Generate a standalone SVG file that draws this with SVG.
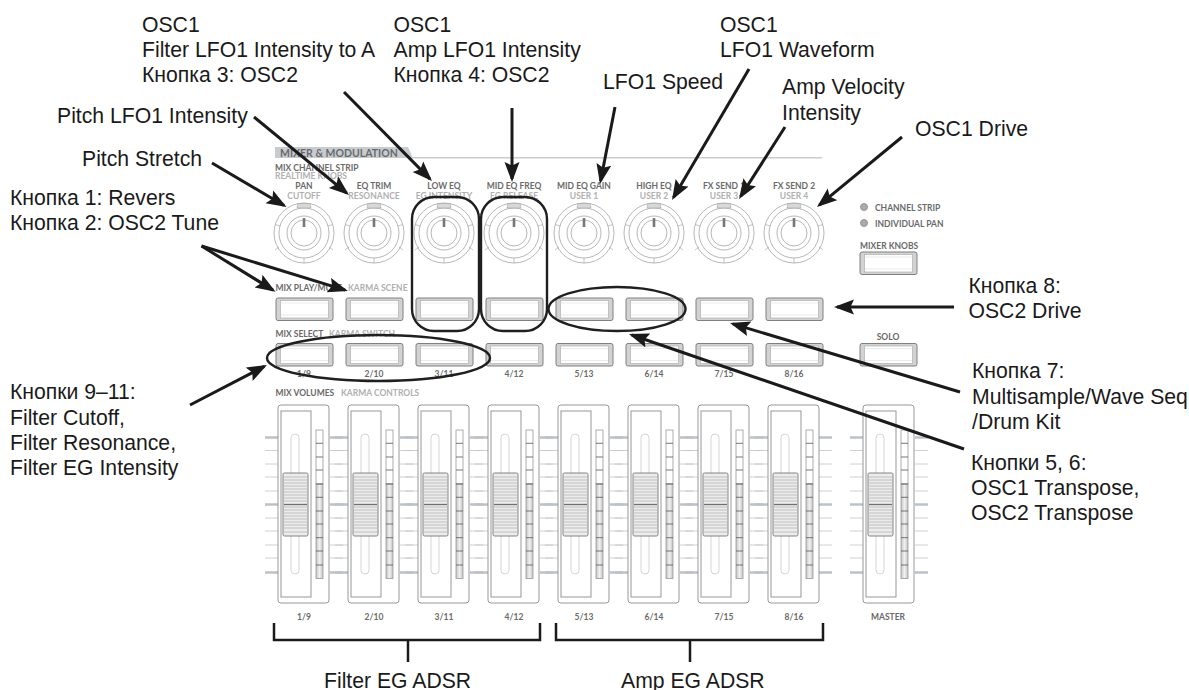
<svg xmlns="http://www.w3.org/2000/svg" width="1189" height="690" viewBox="0 0 1189 690">
<style>
.t{font-family:"Liberation Sans",Arial,sans-serif;font-size:21.2px;fill:#1a1a1a}
.p{font-family:"Lato","Open Sans",sans-serif;font-weight:700;font-size:8.5px;fill:#6a6a6a}
.l{fill:#b0b0b0}
.m{text-anchor:middle}
.arrow{fill:none;stroke:#1a1a1a;stroke-width:3;marker-end:url(#ah)}
.ring{fill:none;stroke:#1f1f1f;stroke-width:2.4}
.k{fill:#fff;stroke:#a5a5a5;stroke-width:.8}
</style>
<defs>
<linearGradient id="seg" x1="0" x2="1" y1="0" y2="0"><stop offset="0" stop-color="#c4c4c4"/><stop offset=".5" stop-color="#f0f0f0"/><stop offset="1" stop-color="#c4c4c4"/></linearGradient>
<marker id="ah" markerUnits="userSpaceOnUse" markerWidth="22" markerHeight="18" refX="17" refY="8" orient="auto"><path d="M0 0.500L20 8L0 15.500L3.500 8Z" fill="#1a1a1a"/></marker>
<g id="knob">
<circle class="k" r="30"/><circle class="k" r="25"/>
<path d="M-6-29.500h12l1 4.500h-14z" fill="#d8d8d8" stroke="#aaa" stroke-width=".7"/>
<path d="M-25 14l-4 3M25 14l4 3M-24-7l-4.800-1.500M24-7l4.800-1.500M0 25v5" fill="none" stroke="#aaa" stroke-width=".7"/>
<circle class="k" r="17"/><circle class="k" r="13"/>
<rect x="-1.300" y="-15" width="2.600" height="9" fill="#777"/>
</g>
<g id="btn">
<rect x="0" y="0" width="57" height="22.500" rx="2" fill="#d2d2d2" stroke="#808080" stroke-width="1"/>
<rect x="4.500" y="2.500" width="48" height="17.500" fill="#fff" stroke="#b0b0b0" stroke-width=".7"/>
<path d="M5 5H52M5 17H52" stroke="#e2e2e2" stroke-width=".7"/>
</g>
<g id="ticks">
<path d="M0 437.500h13M0 504.500h13M0 572.500h13" stroke="#bcc2c8" stroke-width="2.500"/>
<path d="M0 450.500h13M0 464h13M0 477h13M0 491h13M0 518h13M0 531h13M0 545h13M0 558h13" stroke="#c4c4c4" stroke-width=".8"/>
</g>
<g id="fader">
<rect x="0" y="405" width="51" height="198" rx="3" fill="#fff" stroke="#8c8c8c" stroke-width=".9"/>
<rect x="3" y="411" width="30" height="186" fill="#fff" stroke="#8c8c8c" stroke-width=".9"/>
<rect x="13" y="434" width="8" height="140" rx="4" fill="#fff" stroke="#d0d0d0" stroke-width=".9"/>
<rect x="5" y="473" width="25" height="63" rx="1.500" fill="#ececec" stroke="#777" stroke-width=".9"/>
<path d="M6 477h23M6 480h23M6 483h23M6 486h23M6 489h23M6 492h23M6 495h23M6 498h23M6 501h23M6 507h23M6 510h23M6 513h23M6 516h23M6 519h23M6 522h23M6 525h23M6 528h23M6 532h23" stroke="#b5b5b5" stroke-width=".8"/>
<path d="M6 504.500h23" stroke="#707070" stroke-width="1.300"/>
<rect x="38" y="430" width="7" height="54" fill="#fff" stroke="#999" stroke-width=".8"/>
<rect x="38" y="484" width="7" height="94.500" fill="url(#seg)" stroke="#999" stroke-width=".8"/>
<path d="M38 443.300h7M38 457h7M38 470h7M38 484h7M38 497.300h7M38 511h7M38 524h7M38 537.700h7M38 551h7M38 565h7" stroke="#555" stroke-width=".8"/>
</g>
</defs>
<rect width="1189" height="690" fill="#fff"/>
<g id="panel">
<path d="M275 147H408L413 158H275Z" fill="#c8ccd1"/>
<path d="M411 157.700H822" stroke="#c8ccd1" stroke-width="1.500"/>
<text class="p" x="280" y="157" style="font-size:10.500px">MIXER &amp; MODULATION</text>
<text class="p" x="275" y="170.500">MIX CHANNEL STRIP</text>
<text class="p l" x="275" y="179">REALTIME KNOBS</text>
<text class="p" x="275.500" y="290.500">MIX PLAY/MUTE</text>
<text class="p l" x="348" y="290.500">KARMA SCENE</text>
<text class="p" x="275.500" y="336.500">MIX SELECT</text>
<text class="p l" x="329" y="336.500">KARMA SWITCH</text>
<text class="p" x="275.500" y="395.500">MIX VOLUMES</text>
<text class="p l" x="341" y="395.500">KARMA CONTROLS</text>
</g>
<g id="fader-ticks">
<use href="#ticks" x="265"/>
<use href="#ticks" x="330"/><use href="#ticks" x="335"/>
<use href="#ticks" x="400"/><use href="#ticks" x="405"/>
<use href="#ticks" x="470"/><use href="#ticks" x="475"/>
<use href="#ticks" x="540"/><use href="#ticks" x="545"/>
<use href="#ticks" x="610"/><use href="#ticks" x="615"/>
<use href="#ticks" x="680"/><use href="#ticks" x="685"/>
<use href="#ticks" x="750"/><use href="#ticks" x="755"/>
<use href="#ticks" x="819"/><use href="#ticks" x="850"/><use href="#ticks" x="915"/>
</g>
<g id="knob1"><use href="#knob" x="304" y="233"/><text class="p m" x="304" y="189">PAN</text><text class="p l m" x="304" y="199">CUTOFF</text></g>
<g id="knob2"><use href="#knob" x="374" y="233"/><text class="p m" x="374" y="189">EQ TRIM</text><text class="p l m" x="374" y="199">RESONANCE</text></g>
<g id="knob3"><use href="#knob" x="444" y="233"/><text class="p m" x="444" y="189">LOW EQ</text><text class="p l m" x="444" y="199">EG INTENSITY</text></g>
<g id="knob4"><use href="#knob" x="514" y="233"/><text class="p m" x="514" y="189">MID EQ FREQ</text><text class="p l m" x="514" y="199">EG RELEASE</text></g>
<g id="knob5"><use href="#knob" x="584" y="233"/><text class="p m" x="584" y="189">MID EQ GAIN</text><text class="p l m" x="584" y="199">USER 1</text></g>
<g id="knob6"><use href="#knob" x="654" y="233"/><text class="p m" x="654" y="189">HIGH EQ</text><text class="p l m" x="654" y="199">USER 2</text></g>
<g id="knob7"><use href="#knob" x="724" y="233"/><text class="p m" x="724" y="189">FX SEND 1</text><text class="p l m" x="724" y="199">USER 3</text></g>
<g id="knob8"><use href="#knob" x="794" y="233"/><text class="p m" x="794" y="189">FX SEND 2</text><text class="p l m" x="794" y="199">USER 4</text></g>
<g id="leds">
<circle cx="864" cy="207" r="3.500" fill="#aaa" stroke="#999"/><circle cx="864" cy="223" r="3.500" fill="#aaa" stroke="#999"/>
<text class="p" x="875" y="211">CHANNEL STRIP</text><text class="p" x="875" y="227">INDIVIDUAL PAN</text>
</g>
<g id="mixer-knobs"><text class="p" x="860" y="249">MIXER KNOBS</text><use href="#btn" x="860" y="252"/></g>
<g id="solo"><text class="p m" x="888" y="340">SOLO</text><use href="#btn" x="860" y="343.500"/></g>
<g id="row1">
<use href="#btn" x="276" y="298"/><use href="#btn" x="346" y="298"/><use href="#btn" x="416" y="298"/><use href="#btn" x="486" y="298"/>
<use href="#btn" x="556" y="298"/><use href="#btn" x="626" y="298"/><use href="#btn" x="696" y="298"/><use href="#btn" x="766" y="298"/>
</g>
<g id="row2">
<use href="#btn" x="276" y="343.500"/><use href="#btn" x="346" y="343.500"/><use href="#btn" x="416" y="343.500"/><use href="#btn" x="486" y="343.500"/>
<use href="#btn" x="556" y="343.500"/><use href="#btn" x="626" y="343.500"/><use href="#btn" x="696" y="343.500"/><use href="#btn" x="766" y="343.500"/>
<text class="p m" x="304" y="377">1/9</text><text class="p m" x="374" y="377">2/10</text><text class="p m" x="444" y="377">3/11</text><text class="p m" x="514" y="377">4/12</text>
<text class="p m" x="584" y="377">5/13</text><text class="p m" x="654" y="377">6/14</text><text class="p m" x="724" y="377">7/15</text><text class="p m" x="794" y="377">8/16</text>
</g>
<g id="fader1"><use href="#fader" x="278"/><text class="p m" x="304" y="620">1/9</text></g>
<g id="fader2"><use href="#fader" x="348"/><text class="p m" x="374" y="620">2/10</text></g>
<g id="fader3"><use href="#fader" x="418"/><text class="p m" x="444" y="620">3/11</text></g>
<g id="fader4"><use href="#fader" x="488"/><text class="p m" x="514" y="620">4/12</text></g>
<g id="fader5"><use href="#fader" x="558"/><text class="p m" x="584" y="620">5/13</text></g>
<g id="fader6"><use href="#fader" x="628"/><text class="p m" x="654" y="620">6/14</text></g>
<g id="fader7"><use href="#fader" x="698"/><text class="p m" x="724" y="620">7/15</text></g>
<g id="fader8"><use href="#fader" x="768"/><text class="p m" x="794" y="620">8/16</text></g>
<g id="master"><use href="#fader" x="863"/><text class="p m" x="888" y="620">MASTER</text></g>
<g id="highlights">
<rect class="ring" x="412" y="197" width="67" height="134" rx="22"/>
<rect class="ring" x="481" y="197" width="66" height="134" rx="22"/>
<ellipse class="ring" cx="617" cy="309" rx="68.500" ry="22"/>
<ellipse class="ring" cx="378.500" cy="358" rx="111.500" ry="23"/>
</g>
<g id="connectors">
<path class="arrow" d="M212 163L284 205.500"/>
<path class="arrow" d="M254 117L346.700 193.100"/>
<path class="arrow" d="M344 92L429.900 178.900"/>
<path class="arrow" d="M512 108V179"/>
<path class="arrow" d="M615 107L600.600 181"/>
<path class="arrow" d="M749 69L673.500 197.400"/>
<path class="arrow" d="M785 127L740.600 196.500"/>
<path class="arrow" d="M902 137L819.300 205.100"/>
<path class="arrow" d="M201.500 246L273 290.100"/>
<path class="arrow" d="M201.500 246L345.100 290.100"/>
<path class="arrow" d="M954 307H837"/>
<path class="arrow" d="M960 392L732.900 323.900"/>
<path class="arrow" d="M964 449L631.800 335"/>
<path class="arrow" d="M190 405L264.300 366.400"/>
<path d="M274 623V640H540V623M408 640V662M556 623V640H823V623M690 640V662" fill="none" stroke="#1a1a1a" stroke-width="2.500"/>
</g>
<g id="labels">
<text class="t" x="142" y="32">OSC1</text><text class="t" x="142" y="57">Filter LFO1 Intensity to A</text><text class="t" x="142" y="82">Кнопка 3: OSC2</text>
<text class="t" x="393.500" y="32">OSC1</text><text class="t" x="393.500" y="57">Amp LFO1 Intensity</text><text class="t" x="393.500" y="82">Кнопка 4: OSC2</text>
<text class="t" x="720" y="32">OSC1</text><text class="t" x="720" y="57">LFO1 Waveform</text>
<text class="t" x="603" y="89">LFO1 Speed</text>
<text class="t" x="782" y="94">Amp Velocity</text><text class="t" x="782" y="120">Intensity</text>
<text class="t" x="915" y="136">OSC1 Drive</text>
<text class="t" x="57" y="122.500">Pitch LFO1 Intensity</text>
<text class="t" x="82" y="166">Pitch Stretch</text>
<text class="t" x="10" y="205">Кнопка 1: Revers</text><text class="t" x="10" y="230">Кнопка 2: OSC2 Tune</text>
<text class="t" x="968.500" y="293">Кнопка 8:</text><text class="t" x="968.500" y="318">OSC2 Drive</text>
<text class="t" x="972" y="378">Кнопка 7:</text><text class="t" x="972" y="404">Multisample/Wave Seq</text><text class="t" x="972" y="429">/Drum Kit</text>
<text class="t" x="971" y="470">Кнопки 5, 6:</text><text class="t" x="971" y="495">OSC1 Transpose,</text><text class="t" x="971" y="520">OSC2 Transpose</text>
<text class="t" x="10" y="399">Кнопки 9–11:</text><text class="t" x="10" y="425">Filter Cutoff,</text><text class="t" x="10" y="450">Filter Resonance,</text><text class="t" x="10" y="475">Filter EG Intensity</text>
<text class="t" x="324" y="688">Filter EG ADSR</text><text class="t" x="621" y="688">Amp EG ADSR</text>
</g>
</svg>
